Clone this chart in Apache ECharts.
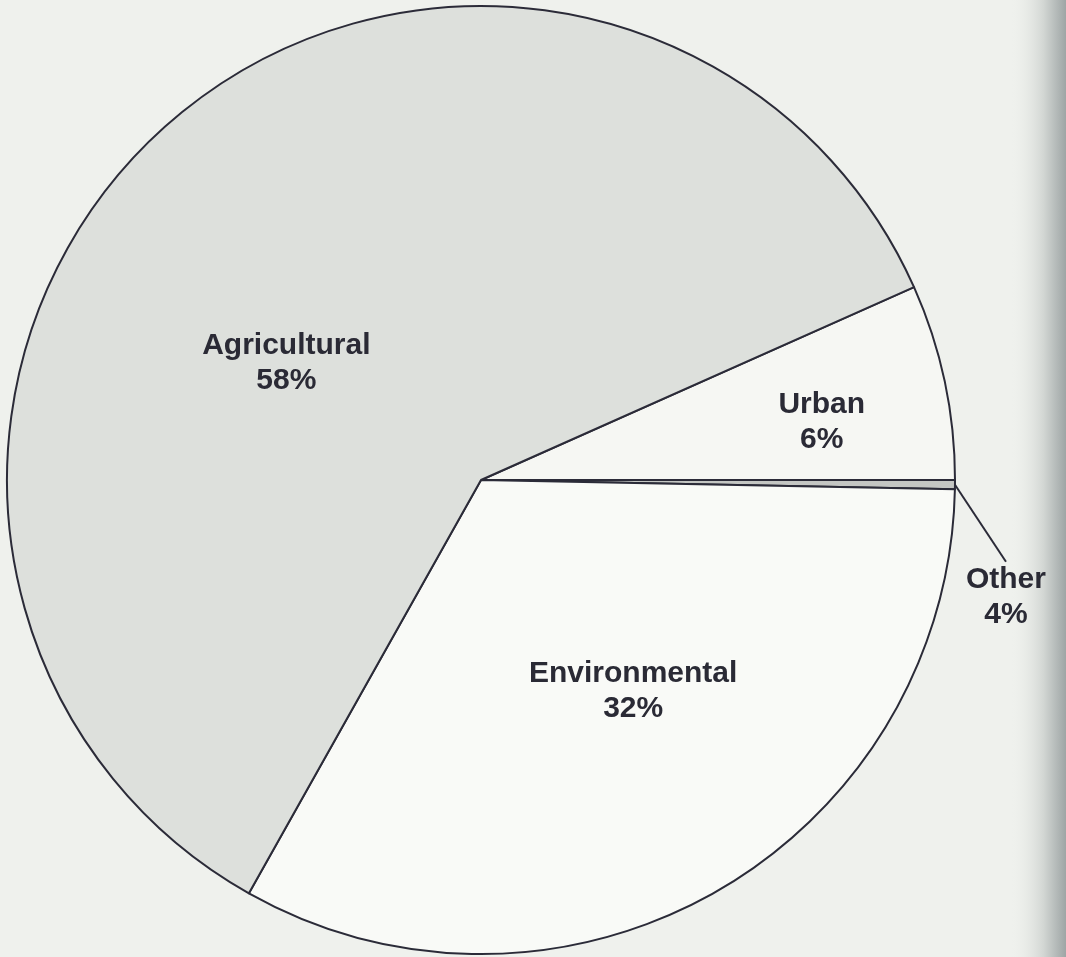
<!DOCTYPE html>
<html>
<head>
<meta charset="utf-8">
<script src="https://cdn.jsdelivr.net/npm/echarts@6/dist/echarts.min.js"></script>
<style>
  html, body { margin: 0; padding: 0; background: #eff1ed; }
  #chart { width: 1066px; height: 957px; }
</style>
</head>
<body>
<div id="chart"></div>
<script>
// Categories in clockwise drawing order, starting at the Urban/Agricultural boundary
const categories = ['Urban', 'Other', 'Environmental', 'Agricultural'];
// Printed percentages on the chart labels
const printedPercents = [6, 4, 32, 58];
// Slice shares as drawn in the picture (percent of the full circle)
const drawnShares = [6.67, 0.31, 32.83, 60.19];

const fills = ['#f6f7f3', '#c4c6c3', '#f9faf7', '#dde0dc'];
const labelShift = [[106, -8], [38, 112], [33, 3], [-33, 61]];

const chart = echarts.init(document.getElementById('chart'), null, { renderer: 'canvas' });

const data = categories.map((name, i) => ({
  name: name,
  value: drawnShares[i],
  itemStyle: { color: fills[i] },
  label: name === 'Other'
    ? { position: 'outside' }
    : { position: 'inside' },
  labelLine: name === 'Other'
    ? { show: true, length: 8, length2: 0, lineStyle: { color: '#2b2b38', width: 2 } }
    : { show: false }
}));

chart.setOption({
  backgroundColor: '#eff1ed',
  animation: false,
  graphic: [{
    type: 'rect',
    shape: { x: 1010, y: 0, width: 56, height: 957 },
    style: {
      fill: new echarts.graphic.LinearGradient(0, 0, 1, 0, [
        { offset: 0, color: 'rgba(239,241,237,0)' },
        { offset: 0.6, color: '#d2d6d3' },
        { offset: 1, color: '#9ea5a5' }
      ])
    },
    z: -1
  }],
  series: [{
    type: 'pie',
    center: [481, 480],
    radius: 474,
    startAngle: 24,
    clockwise: true,
    avoidLabelOverlap: false,
    minAngle: 0,
    itemStyle: { borderColor: '#2b2b38', borderWidth: 2 },
    emphasis: { disabled: true },
    label: {
      show: true,
      formatter: (p) => p.name + '\n' + printedPercents[p.dataIndex] + '%',
      fontFamily: "'Liberation Sans', Arial, Helvetica, sans-serif",
      fontWeight: 'bold',
      fontSize: 30,
      lineHeight: 35,
      color: '#2a2a35',
      align: 'center'
    },
    labelLayout: (params) => {
      const i = params.dataIndex;
      if (categories[i] === 'Other') {
        const r = params.labelRect;
        return {
          x: r.x + labelShift[i][0],
          y: r.y + r.height / 2 + labelShift[i][1],
          align: 'center',
          verticalAlign: 'middle'
        };
      }
      return { dx: labelShift[i][0], dy: labelShift[i][1] };
    },
    data: data
  }]
});
</script>
</body>
</html>
